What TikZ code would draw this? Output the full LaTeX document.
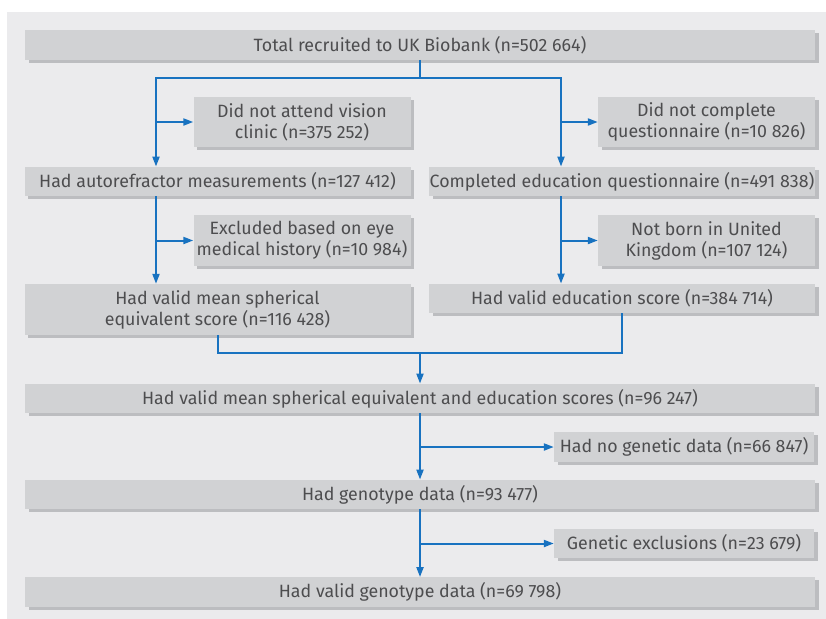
\documentclass[tikz,border=0pt]{standalone}
\usepackage{fontspec}
\setmainfont{Fira Sans}
\usetikzlibrary{arrows.meta,shadows}
\definecolor{panel}{HTML}{EBEBED}
\definecolor{boxfill}{HTML}{D1D2D4}
\definecolor{boxshadow}{HTML}{BCBDC0}
\definecolor{flowblue}{HTML}{1872C0}
\definecolor{txt}{HTML}{4D4D4F}
\begin{document}
\begin{tikzpicture}[x=1pt,y=-1pt,
  fbox/.style={fill=boxfill, draw=none, inner sep=0pt, align=center,
    text=txt, font=\fontsize{17.8}{21}\selectfont,
    drop shadow={shadow xshift=3.5pt, shadow yshift=-3pt, fill=boxshadow, opacity=1}},
  wide/.style={fbox, minimum width=790pt, minimum height=29.5pt},
  half/.style={fbox, minimum width=386pt, minimum height=29.5pt},
  halftall/.style={fbox, minimum width=386pt, minimum height=51pt},
  side/.style={fbox, minimum width=217pt, minimum height=50.5pt},
  gside/.style={fbox, minimum width=260pt, minimum height=29.5pt},
  flow/.style={draw=flowblue, line width=2pt},
  arr/.style={flow, -{Triangle[length=10pt,width=7pt]}}
]
\useasboundingbox (0,0) rectangle (826,618);
\fill[panel] (7,12) rectangle (840,630);

\node[wide] (top) at (420,45) {Total recruited to UK Biobank (n=502 664)};
\node[side] (dnav) at (302,122) {Did not attend vision\\clinic (n=375 252)};
\node[half] (auto) at (217.5,181.5) {Had autorefractor measurements (n=127 412)};
\node[side] (dncq) at (706.5,122) {Did not complete\\questionnaire (n=10 826)};
\node[half] (comp) at (622,181.5) {Completed education questionnaire (n=491 838)};
\node[side] (excl) at (302,240.5) {Excluded based on eye\\medical history (n=10 984)};
\node[halftall] (mse) at (217.5,309.5) {Had valid mean spherical\\equivalent score (n=116 428)};
\node[side] (nbuk) at (706.5,240.5) {Not born in United\\Kingdom (n=107 124)};
\node[half] (edu) at (622,298.5) {Had valid education score (n=384 714)};
\node[wide] (both) at (420,398.5) {Had valid mean spherical equivalent and education scores (n=96 247)};
\node[gside] (nogen) at (684,447) {Had no genetic data (n=66 847)};
\node[wide] (geno) at (420,494.5) {Had genotype data (n=93 477)};
\node[gside] (genex) at (684,543.5) {Genetic exclusions (n=23 679)};
\node[wide] (valid) at (420,592) {Had valid genotype data (n=69 798)};

% split from top
\coordinate (split) at (420,78);
\draw[flow] (top.south) -- (split);
\draw[arr] (split) -| (156,0 |- auto.north);
\draw[arr] (split) -| (561,0 |- comp.north);
\draw[arr] (156,0 |- dnav.west) -- (dnav.west);
\draw[arr] (561,0 |- dncq.west) -- (dncq.west);

% second level
\draw[arr] (156,0 |- auto.south) -- (156,0 |- mse.north);
\draw[arr] (156,0 |- excl.west) -- (excl.west);
\draw[arr] (561,0 |- comp.south) -- (561,0 |- edu.north);
\draw[arr] (561,0 |- nbuk.west) -- (nbuk.west);

% merge
\coordinate (merge) at (420,353);
\draw[flow] (218,0 |- mse.south) |- (merge);
\draw[flow] (622,0 |- edu.south) |- (merge);
\draw[arr] (merge) -- (both.north);

% genetic
\draw[arr] (both.south) -- (geno.north);
\draw[arr] (420,0 |- nogen.west) -- (nogen.west);
\draw[arr] (geno.south) -- (valid.north);
\draw[arr] (420,0 |- genex.west) -- (genex.west);
\end{tikzpicture}
\end{document}
